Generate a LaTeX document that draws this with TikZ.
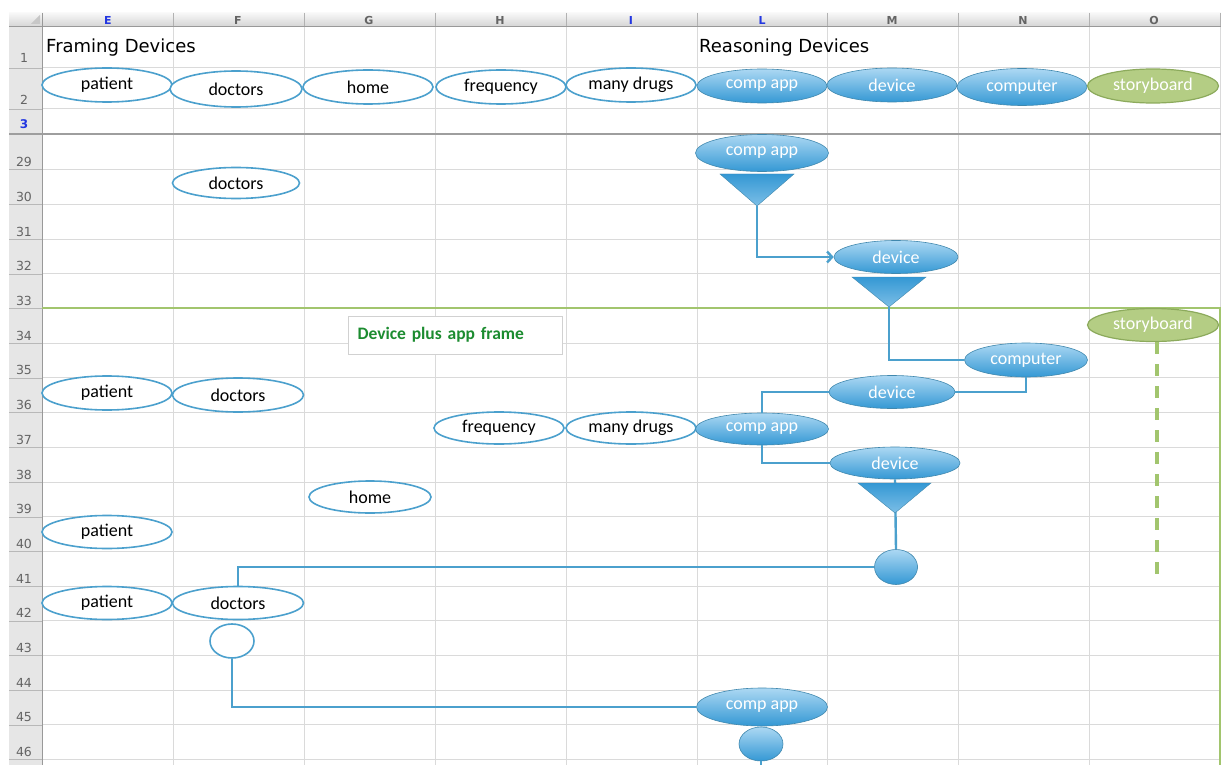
\documentclass[tikz,border=0pt]{standalone}
\usepackage{fontspec}
\setmainfont{Carlito}
\newfontfamily\sheetfont{DejaVu Sans}
\usetikzlibrary{shapes.geometric,arrows.meta}
\definecolor{lineblue}{RGB}{75,160,205}
\definecolor{darkblue}{RGB}{52,152,212}
\definecolor{lightblue}{RGB}{172,216,243}
\definecolor{gridgray}{RGB}{218,218,218}
\definecolor{headgray}{RGB}{230,230,230}
\definecolor{headtext}{RGB}{100,100,100}
\definecolor{selblue}{RGB}{35,55,225}
\definecolor{sbfill}{RGB}{180,205,132}
\definecolor{sbdraw}{RGB}{140,170,92}
\definecolor{framegreen}{RGB}{162,197,110}
\definecolor{labelgreen}{RGB}{28,140,48}

\begin{document}
\begin{tikzpicture}[x=1pt,y=-1pt,
  every node/.style={inner sep=0pt, font=\fontsize{18}{18}\selectfont},
  frameoval/.style={ellipse, draw=lineblue, line width=1.6pt, fill=white, minimum width=130pt, minimum height=34pt},
  reasonoval/.style={ellipse, draw=lineblue!85!black, line width=0.6pt, top color=lightblue, bottom color=darkblue, text=white, minimum width=130pt, minimum height=34pt},
  story/.style={ellipse, draw=sbdraw, line width=1.2pt, fill=sbfill, text=white, minimum width=131pt, minimum height=33pt},
  dot/.style={ellipse, draw=lineblue!85!black, line width=0.6pt, top color=lightblue, bottom color=darkblue, minimum width=43pt, minimum height=35pt},
  ring/.style={ellipse, draw=lineblue, line width=1.6pt, fill=white, minimum width=44pt, minimum height=34pt},
  funnel/.style={top color=darkblue, bottom color=lightblue!60!darkblue, draw=lineblue!85!black, line width=0.4pt},
  link/.style={draw=lineblue, line width=2.4pt},
  colhead/.style={font=\sheetfont\bfseries\fontsize{11}{11}\selectfont},
  rowhead/.style={font=\sheetfont\fontsize{12.5}{12.5}\selectfont, text=headtext, anchor=base}]

\fill[white] (0,0) rectangle (1221,765);
\useasboundingbox (0,0) rectangle (1221,765);

% sheet headers and grid
\shade[top color=white!97!black, bottom color=white!84!black] (9,13) rectangle (1221,26);
\fill[headgray] (9,26) rectangle (42,765);
\fill[white!78!black] (40,15) -- (40,24) -- (31,24) -- cycle;
\foreach \x in {173,304,435,566,697,827,958,1089,1220} {
  \draw[gridgray, line width=1pt] (\x,26) -- (\x,765);
  \draw[white!70!black] (\x,13) -- (\x,26);
}
\foreach \y in {68,109} \draw[gridgray, line width=1pt] (42,\y) -- (1221,\y);
\foreach \n in {1,...,18} \draw[gridgray, line width=1pt] (42,{135+34.7*\n}) -- (1221,{135+34.7*\n});
\foreach \y in {68,109} \draw[white!72!black] (9,\y) -- (42,\y);
\foreach \n in {1,...,18} \draw[white!72!black] (9,{135+34.7*\n}) -- (42,{135+34.7*\n});
\draw[white!60!black] (9,26) -- (1221,26);
\draw[white!60!black] (42,13) -- (42,765);
\draw[white!62!black, line width=2pt] (9,134) -- (1221,134);

\foreach \c/\x/\col in {E/108/selblue, F/238/headtext, G/369/headtext, H/500/headtext, I/631/selblue, L/762/selblue, M/892/headtext, N/1023/headtext, O/1154/headtext}
  \node[colhead, text=\col] at (\x,20) {\c};
\node[rowhead] at (24,63) {1};
\node[rowhead] at (24,105) {2};
\node[rowhead, text=selblue, font=\sheetfont\bfseries\fontsize{12}{12}\selectfont] at (24,129) {3};
\foreach \r [count=\n] in {29,...,46}
  \node[rowhead] at (24,{135+34.7*\n-3}) {\r};

\draw[framegreen, line width=1.5pt] (42,308) -- (1220,308) -- (1220,765);

\node[anchor=west, font=\sheetfont\fontsize{18}{18}\selectfont] (framing) at (46,48) {Framing Devices};
\node[anchor=west, font=\sheetfont\fontsize{18}{18}\selectfont] (reasoning) at (699,48) {Reasoning Devices};

% row 2
\node[frameoval] (pat2) at (107,85) {patient};
\node[frameoval, minimum width=132pt, minimum height=36pt] (doc2) at (236,89) {doctors};
\node[frameoval] (home2) at (368,87) {home};
\node[frameoval] (freq2) at (501,87) {frequency};
\node[frameoval] (drugs2) at (631,85) {many drugs};
\node[reasonoval] (app2) at (762,86) {comp app};
\node[reasonoval] (dev2) at (892,85) {device};
\node[reasonoval, minimum height=37pt] (comp2) at (1022,87) {computer};
\node[story, minimum height=34pt] (sb2) at (1153,86) {storyboard};

% rows 29-33
\node[reasonoval, minimum width=133pt, minimum height=37pt] (app29) at (762,153) {comp app};
\node[frameoval, minimum width=127pt, minimum height=31pt] (doc30) at (236,183) {doctors};
\node[reasonoval, minimum width=124pt, minimum height=33pt] (dev32) at (896,257) {device};

% device plus app frame
\node[draw=white!82!black, fill=white, line width=1pt, anchor=west, minimum width=214pt, minimum height=38pt, inner xsep=9pt, text width=196pt, align=left, text=labelgreen, font=\bfseries\fontsize{17.5}{17.5}\selectfont] (lbl) at (348,335) {Device plus app frame};
\node[story] (sb34) at (1153,325) {storyboard};
\node[reasonoval, minimum width=123pt] (comp35) at (1026,360) {computer};
\node[frameoval] (pat36) at (107,393) {patient};
\node[frameoval, minimum width=131pt] (doc36) at (238,395) {doctors};
\node[reasonoval, minimum width=126pt, minimum height=33pt] (dev36) at (892,392) {device};
\node[frameoval, minimum height=32pt] (freq37) at (499,428) {frequency};
\node[frameoval, minimum height=32pt] (drugs37) at (631,428) {many drugs};
\node[reasonoval, minimum width=133pt, minimum height=32pt] (app37) at (762,429) {comp app};
\node[reasonoval, minimum height=32pt] (dev38) at (895,463) {device};
\node[frameoval, minimum width=122pt, minimum height=32pt] (home39) at (370,497) {home};
\node[frameoval, minimum height=33pt] (pat40) at (107,532) {patient};
\node[dot] (dot41) at (896,567) {};
\node[frameoval, minimum height=33pt] (pat42) at (107,603) {patient};
\node[frameoval, minimum width=131pt, minimum height=33pt] (doc42) at (238,603) {doctors};
\node[ring] (ring43) at (232,641) {};
\node[reasonoval, minimum width=131pt, minimum height=38pt] (app45) at (762,707) {comp app};
\node[dot, minimum width=44pt, minimum height=34pt] (dot46) at (761,744) {};
\coordinate (offpage) at (761,765);
\coordinate (sbend) at (1157,575);

% connectors
\path[funnel] (720,174) -- (794,174) -- (757,206) coordinate (tipA) -- cycle;
\draw[link, -{Straight Barb[length=5pt,width=11pt]}] (tipA) |- (dev32.west);
\path[funnel] (852,277) -- (926,277) -- (889,307) coordinate (tipB) -- cycle;
\draw[link] (tipB) |- (comp35.west);
\draw[link] (comp35.south) |- (dev36.east);
\draw[link] (dev36.west) -| (app37.north);
\draw[link] (app37.south) |- (dev38.west);
\draw[link] (dev38.south) -- (dot41.north);
\path[funnel] (858,483) -- (931,483) -- (895,513) coordinate (tipC) -- cycle;
\draw[link] (dot41.west) -| (doc42.north);
\draw[link] (app45.west) -| (ring43.south);
\draw[link] (dot46.south) -- (offpage);
\draw[framegreen, line width=3.5pt, dash pattern=on 12pt off 10pt] (sbend |- sb34.south) -- (sbend);
\end{tikzpicture}
\end{document}
